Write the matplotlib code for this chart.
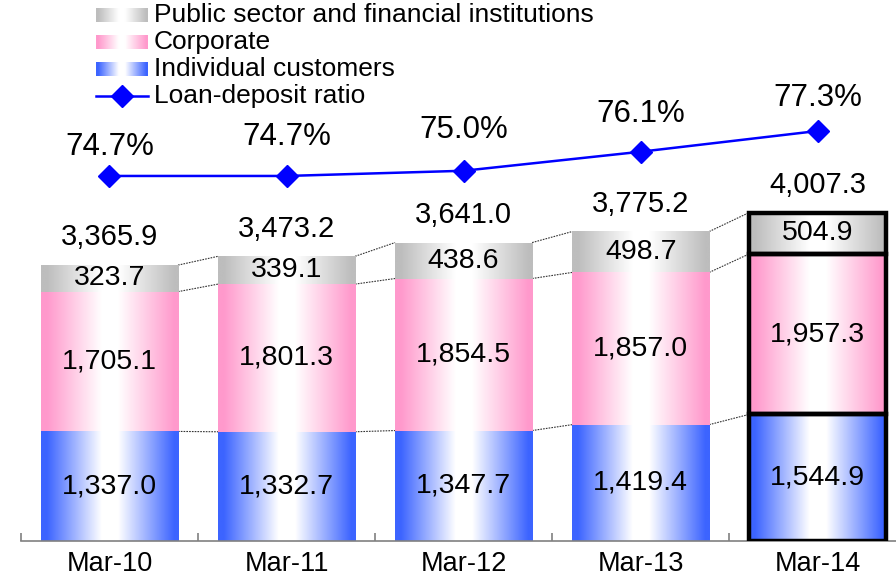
"""Loans by customer type with loan-deposit ratio."""
import matplotlib
matplotlib.use("Agg")
import matplotlib.pyplot as plt
import numpy as np
from matplotlib.colors import LinearSegmentedColormap

plt.rcParams["font.family"] = ["Liberation Sans", "DejaVu Sans"]

# ── data ────────────────────────────────────────────────────────────────────
categories = ["Mar-10", "Mar-11", "Mar-12", "Mar-13", "Mar-14"]
individual = [1337.0, 1332.7, 1347.7, 1419.4, 1544.9]
corporate  = [1705.1, 1801.3, 1854.5, 1857.0, 1957.3]
public     = [323.7, 339.1, 438.6, 498.7, 504.9]
totals     = [3365.9, 3473.2, 3641.0, 3775.2, 4007.3]
ratio      = [74.7, 74.7, 75.0, 76.1, 77.3]

series_names = ["Individual customers", "Corporate",
                "Public sector and financial institutions"]

# ── styles ──────────────────────────────────────────────────────────────────
C_BLUE = "#3C64FF"
C_PINK = "#FF99CC"
C_GRAY = "#BDBDBD"
C_LINE = "#0000FF"
pct_offsets = [21, 28, 29, 27, 24]   # points above each marker

# horizontal gradient: colour at the edges, white in the middle
t = np.linspace(0, 1, 200)
w = np.interp(t, [0, 0.04, 0.44, 0.56, 0.97, 1], [1, 1, 0, 0, 1, 1])
grad = w[np.newaxis, :]


def cmap_for(c):
    return LinearSegmentedColormap.from_list("g", ["white", c])


fig = plt.figure(figsize=(8.96, 5.79), dpi=100)
fig.patch.set_facecolor("white")
ax = fig.add_axes([0.0234, 0.0656, 0.988, 0.9344])
ax.set_facecolor("none")

x = np.arange(len(categories))
bw = 0.774
layers = [individual, corporate, public]
colors = [C_BLUE, C_PINK, C_GRAY]

bottom = np.zeros(len(x))
tops = []
for vals, col in zip(layers, colors):
    bars = ax.bar(x, vals, width=bw, bottom=bottom, color="none",
                  edgecolor="none", zorder=3)
    for i, b in enumerate(bars):
        bx, by = b.get_x(), b.get_y()
        ax.imshow(grad, extent=(bx, bx + b.get_width(), by, by + b.get_height()),
                  cmap=cmap_for(col), vmin=0, vmax=1, aspect="auto",
                  interpolation="bilinear", zorder=2)
        ax.text(bx + b.get_width() / 2, by + b.get_height() / 2,
                f"{vals[i]:,.1f}", ha="center", va="center",
                fontsize=20.5, color="#000000", zorder=5)
        if i == len(x) - 1:
            b.set_edgecolor("black")
            b.set_linewidth(3.2)
            b.set_zorder(4)
    bottom = bottom + np.array(vals)
    tops.append(bottom.copy())

# dotted connectors between neighbouring bars
for lvl in tops:
    for i in range(len(x) - 1):
        ax.plot([x[i] + bw / 2, x[i + 1] - bw / 2], [lvl[i], lvl[i + 1]],
                ls=(0, (1.5, 1.0)), color="#333333", lw=0.8, zorder=1)

# totals above bars
for i, tot in enumerate(totals):
    ax.annotate(f"{tot:,.1f}", (x[i], bottom[i]), xytext=(0, 20),
                textcoords="offset points", ha="center", va="center",
                fontsize=21)

ax.set_xlim(-0.5, len(x) - 0.5)
ax.set_ylim(0, 6600)
ax.set_yticks([])
for s in ["left", "right", "top"]:
    ax.spines[s].set_visible(False)
ax.spines["bottom"].set_color("#808080")
ax.spines["bottom"].set_linewidth(1.2)
ax.set_xticks(x)
ax.set_xticklabels(categories, fontsize=19.5)
ax.set_xticks(np.arange(-0.5, len(x) - 0.5, 1.0), minor=True)
ax.tick_params(axis="x", which="major", length=0, pad=7)
ax.tick_params(axis="x", which="minor", direction="in", length=6,
               color="#808080", width=1.2)

# ── loan-deposit ratio line ─────────────────────────────────────────────────
ax2 = ax.twinx()
ax2.set_ylim(53.6, 84.87)
ax2.axis("off")
ax2.plot(x, ratio, color=C_LINE, lw=1.8, marker="D", ms=11, zorder=6)
for i, r in enumerate(ratio):
    ax2.annotate(f"{r:.1f}%", (x[i], r), xytext=(0, pct_offsets[i]),
                 textcoords="offset points", ha="center", va="center",
                 fontsize=22.5)

# ── legend (drawn by hand, pixel coordinates) ───────────────────────────────
lg = fig.add_axes([0, 0, 1, 1], zorder=10)
lg.set_xlim(0, 896)
lg.set_ylim(579, 0)
lg.axis("off")
lg.patch.set_alpha(0)

legend_rows = [
    (C_GRAY, series_names[2], 15.5),
    (C_PINK, series_names[1], 42),
    (C_BLUE, series_names[0], 69),
]
for col, name, yc in legend_rows:
    lg.imshow(grad, extent=(96, 148, yc + 7, yc - 7), cmap=cmap_for(col),
              vmin=0, vmax=1, aspect="auto", interpolation="bilinear")
    lg.text(154, yc, name, va="center", ha="left", fontsize=19)
lg.plot([96, 148], [96, 96], color=C_LINE, lw=1.8)
lg.plot([122], [96], marker="D", ms=11, color=C_LINE)
lg.text(154, 96, "Loan-deposit ratio", va="center", ha="left", fontsize=19)
lg.set_xlim(0, 896)
lg.set_ylim(579, 0)

fig.savefig("out.png", dpi=100, facecolor="white")
plt.close(fig)
